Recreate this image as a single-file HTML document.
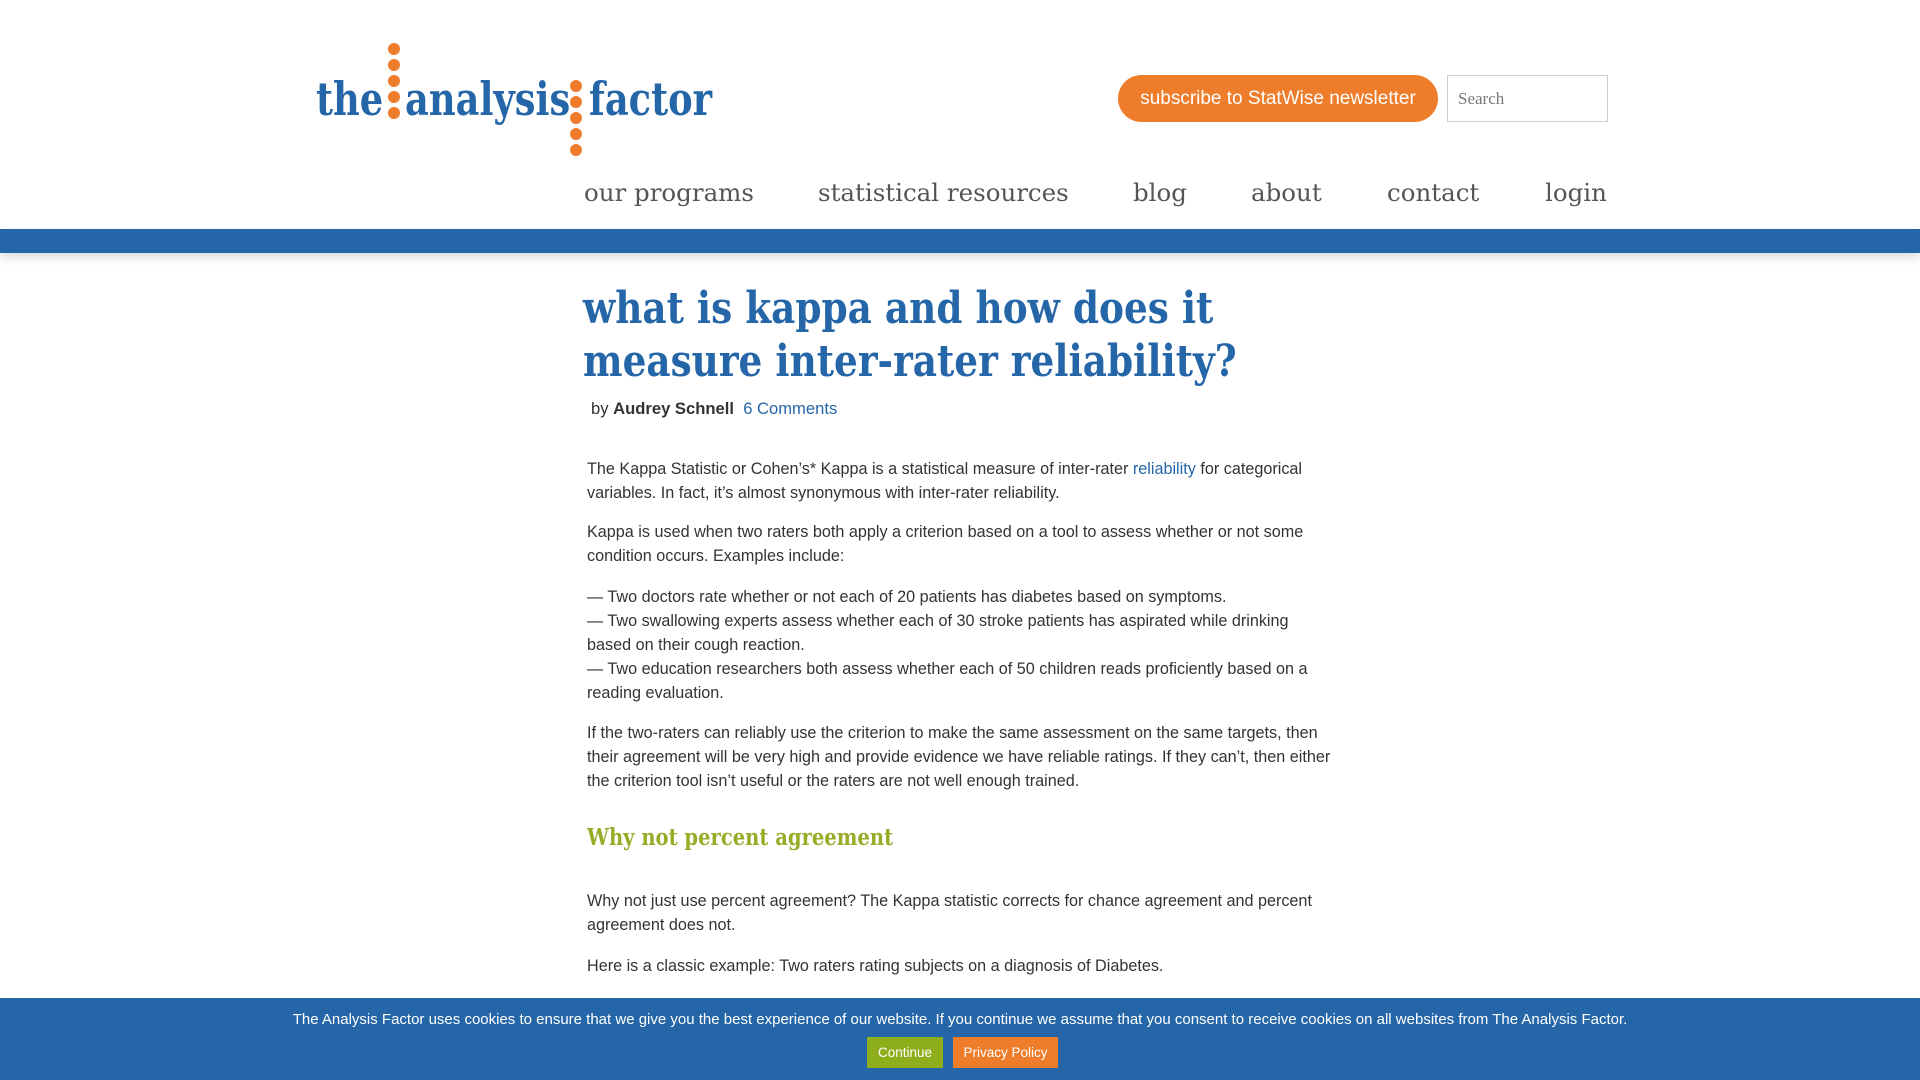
<!DOCTYPE html>
<html><head><meta charset="utf-8"><style>
*{margin:0;padding:0;box-sizing:border-box}
body{width:1920px;height:1080px;overflow:hidden;background:#fff;font-family:"Liberation Sans",sans-serif;color:#333;position:relative}
.abs{position:absolute}
.logo{left:316px;top:43px;width:392px;height:113px}
.logo .t{position:absolute;top:33px;font-family:"DejaVu Serif",serif;font-weight:bold;font-size:46px;color:#2566a8;white-space:nowrap;line-height:1;transform:scaleX(.8);transform-origin:left top}
.dot{position:absolute;width:12px;height:12px;border-radius:50%;background:#ee7d2b}
.btn{left:1118px;top:75px;width:320px;height:47px;border-radius:24px;background:#ee7d2b;color:#fff;font-size:19px;line-height:47px;text-align:center}
.search{left:1447px;top:75px;width:161px;height:47px;border:1px solid #ccc;font-family:"Liberation Serif",serif;font-size:17px;color:#777;padding-left:10px;line-height:45px}
.nav{top:175px;font-family:"DejaVu Serif",serif;font-size:24.5px;color:#555;white-space:nowrap;line-height:36px}
.bar{left:0;top:229px;width:1920px;height:24px;background:#2566a8;box-shadow:0 4px 10px rgba(0,0,0,.15)}
h1{position:absolute;left:583px;top:282px;font-family:"DejaVu Serif",serif;font-weight:bold;font-size:44px;line-height:53px;color:#2566a8;white-space:nowrap;transform:scaleX(.85);transform-origin:left top}
.by{left:591px;top:398px;font-size:16.6px;line-height:22px}
.c{left:587px;width:750px;font-size:16.2px;line-height:24px;color:#333}
.c p{position:absolute;left:0;width:750px}
a{color:#2566a8;text-decoration:none}
h2{position:absolute;left:0;font-family:"DejaVu Serif",serif;font-weight:bold;font-size:23px;color:#9aab27;white-space:nowrap;transform:scaleX(.85);transform-origin:left top}
.cookie{left:0;top:998px;width:1920px;height:82px;background:#2566a8;color:#fff;font-size:15px;text-align:center}
.cb{position:absolute;top:39px;height:31px;line-height:31px;font-size:13.5px;color:#fff;text-align:center}
</style></head><body>
<div class="abs logo">
 <div class="t" style="left:0">the</div>
 <div class="t" style="left:89px">analysis</div>
 <div class="t" style="left:273px">factor</div>
 <div class="dot" style="left:72px;top:0"></div><div class="dot" style="left:72px;top:16px"></div><div class="dot" style="left:72px;top:32px"></div><div class="dot" style="left:72px;top:48px"></div><div class="dot" style="left:72px;top:64px"></div>
 <div class="dot" style="left:254px;top:37px"></div><div class="dot" style="left:254px;top:53px"></div><div class="dot" style="left:254px;top:69px"></div><div class="dot" style="left:254px;top:85px"></div><div class="dot" style="left:254px;top:101px"></div>
</div>
<div class="abs btn">subscribe to StatWise newsletter</div>
<div class="abs search">Search</div>
<div class="abs nav" style="left:584px">our programs</div>
<div class="abs nav" style="left:818px">statistical resources</div>
<div class="abs nav" style="left:1133px">blog</div>
<div class="abs nav" style="left:1251px">about</div>
<div class="abs nav" style="left:1387px">contact</div>
<div class="abs nav" style="left:1545px">login</div>
<div class="abs bar"></div>
<h1>what is kappa and how does it<br>measure inter-rater reliability?</h1>
<div class="abs by">by <b>Audrey Schnell</b>&nbsp; <a href="#">6 Comments</a></div>
<div class="abs c" style="top:0">
<p style="top:457px">The Kappa Statistic or Cohen’s* Kappa is a statistical measure of inter-rater <a href="#">reliability</a> for categorical variables. In fact, it’s almost synonymous with inter-rater reliability.</p>
<p style="top:520px">Kappa is used when two raters both apply a criterion based on a tool to assess whether or not some condition occurs. Examples include:</p>
<p style="top:585px">— Two doctors rate whether or not each of 20 patients has diabetes based on symptoms.<br>— Two swallowing experts assess whether each of 30 stroke patients has aspirated while drinking based on their cough reaction.<br>— Two education researchers both assess whether each of 50 children reads proficiently based on a reading evaluation.</p>
<p style="top:721px">If the two-raters can reliably use the criterion to make the same assessment on the same targets, then their agreement will be very high and provide evidence we have reliable ratings. If they can’t, then either the criterion tool isn’t useful or the raters are not well enough trained.</p>
<h2 style="top:826px">Why not percent agreement</h2>
<p style="top:889px">Why not just use percent agreement? The Kappa statistic corrects for chance agreement and percent agreement does not.</p>
<p style="top:954px">Here is a classic example: Two raters rating subjects on a diagnosis of Diabetes.</p>
</div>
<div class="abs cookie">
 <div style="position:absolute;top:13px;width:100%">The Analysis Factor uses cookies to ensure that we give you the best experience of our website. If you continue we assume that you consent to receive cookies on all websites from The Analysis Factor.</div>
 <div class="cb" style="left:867px;width:76px;background:#8fae1b">Continue</div>
 <div class="cb" style="left:953px;width:105px;background:#ee7d2b">Privacy Policy</div>
</div>
</body></html>
